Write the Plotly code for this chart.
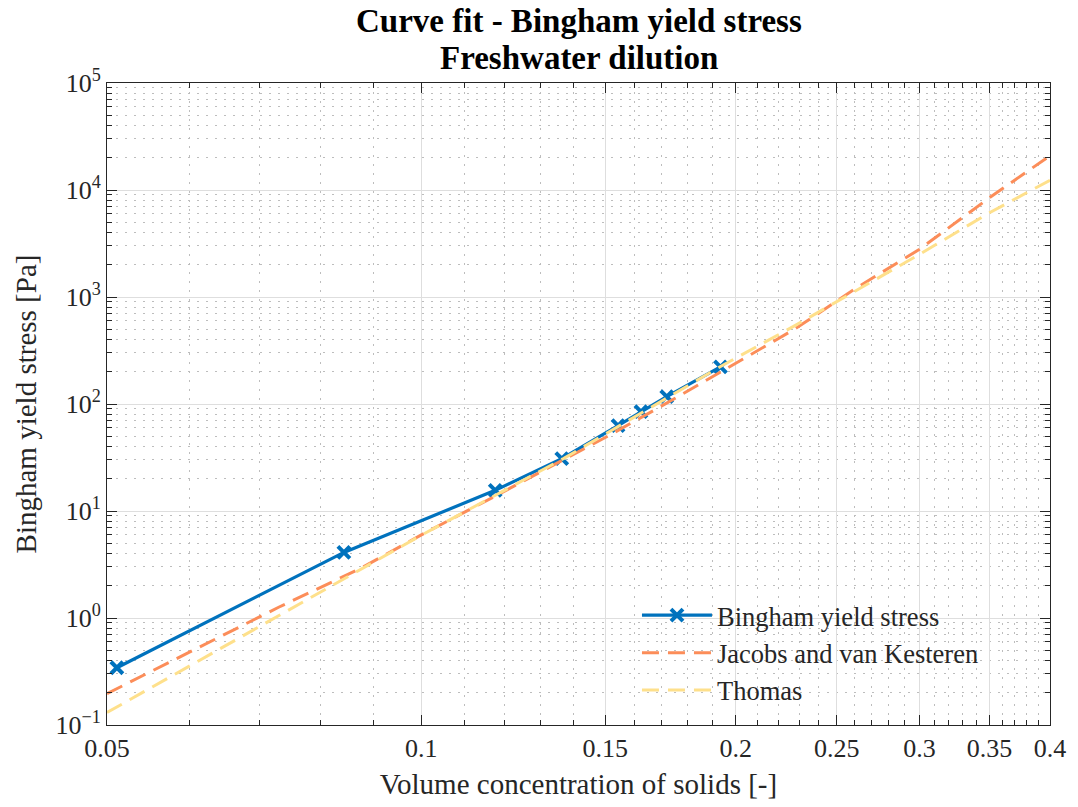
import plotly.graph_objects as go

# ---- data ----
bingham_x = [0.0511, 0.0843, 0.1177, 0.1363, 0.1543, 0.1623, 0.1718, 0.1934]
bingham_y = [0.343, 4.10, 15.6, 30.9, 62.8, 84.8, 117, 222]

jvk_x = [0.05, 0.0730, 0.0876, 0.10, 0.1182, 0.1338, 0.1514, 0.1714, 0.1884, 0.2279, 0.2599, 0.30, 0.35, 0.40]
jvk_y = [0.1965, 1.26, 2.93, 5.98, 14.1, 26.8, 51.0, 100.7, 172, 502, 1185, 2793, 8460, 20950]

thomas_x = [0.05, 0.0730, 0.10, 0.1368, 0.1942, 0.2279, 0.30, 0.35, 0.40]
thomas_y = [0.1307, 1.04, 5.94, 30.9, 229, 540, 2507, 6133, 12340]

x_tickvals = [0.05, 0.1, 0.15, 0.2, 0.25, 0.3, 0.35, 0.4]
x_ticktext = ["0.05", "0.1", "0.15", "0.2", "0.25", "0.3", "0.35", "0.4"]
y_tickvals = [0.1, 1, 10, 100, 1000, 10000, 100000]
y_ticktext = ["10<sup>−1</sup>", "10<sup>0</sup>", "10<sup>1</sup>", "10<sup>2</sup>",
              "10<sup>3</sup>", "10<sup>4</sup>", "10<sup>5</sup>"]

title_lines = ["Curve fit - Bingham yield stress", "Freshwater dilution"]

x_minor = [round(0.01 * k, 2) for k in range(6, 40) if k % 5 != 0]
y_minor = [m * 10.0 ** d for d in range(-1, 5) for m in range(2, 10)]

FONT = "Liberation Serif"
TXT = "#262626"
BLUE = "#0072BD"
ORANGE = "#fc8d59"
YELLOW = "#fee08b"

fig = go.Figure()
fig.add_trace(go.Scatter(
    x=bingham_x, y=bingham_y, mode="lines+markers", name="Bingham yield stress",
    line=dict(color=BLUE, width=3.2),
    marker=dict(symbol="x-thin", size=12, line=dict(color=BLUE, width=4), color=BLUE),
))
fig.add_trace(go.Scatter(
    x=jvk_x, y=jvk_y, mode="lines", name="Jacobs and van Kesteren",
    line=dict(color=ORANGE, width=3, dash="17px,9px"),
))
fig.add_trace(go.Scatter(
    x=thomas_x, y=thomas_y, mode="lines", name="Thomas",
    line=dict(color=YELLOW, width=3, dash="17px,9px"),
))

axis_common = dict(
    type="log", showline=True, linecolor=TXT, linewidth=1, mirror="ticks",
    ticks="inside", ticklen=10, tickwidth=1, tickcolor=TXT,
    showgrid=True, gridcolor="#dedede", gridwidth=1.3, zeroline=False,
    tickfont=dict(family=FONT, size=26, color=TXT),
)
minor_common = dict(ticks="inside", ticklen=5, tickcolor=TXT, tickwidth=1,
                    showgrid=True, gridcolor="#bdbdbd", griddash="1.5px,7.5px", gridwidth=1)

fig.update_layout(
    width=1078, height=807,
    margin=dict(l=107, r=21, t=83, b=80),
    paper_bgcolor="white", plot_bgcolor="white",
    font=dict(family=FONT, color=TXT),
    xaxis=dict(
        axis_common,
        range=[-1.30103, -0.39794],
        tickmode="array", tickvals=x_tickvals, ticktext=x_ticktext,
        minor=dict(minor_common, tickvals=x_minor),
        title=dict(text="Volume concentration of solids [-]",
                   font=dict(family=FONT, size=29, color=TXT), standoff=11),
    ),
    yaxis=dict(
        axis_common,
        range=[-1, 5],
        tickmode="array", tickvals=y_tickvals, ticktext=y_ticktext,
        minor=dict(minor_common, tickvals=y_minor),
        title=dict(text="Bingham yield stress [Pa]",
                   font=dict(family=FONT, size=29, color=TXT), standoff=10),
    ),
    legend=dict(
        x=0.562, y=0.208, xanchor="left", yanchor="top",
        bgcolor="rgba(0,0,0,0)", borderwidth=0,
        font=dict(family=FONT, size=26.5, color=TXT),
        itemwidth=70, tracegroupgap=0,
    ),
    showlegend=True,
)

for i, line in enumerate(title_lines):
    fig.add_annotation(
        text=f"<b>{line}</b>", xref="paper", yref="paper",
        x=0.5, y=1 + (83 - (21 + 37 * i)) / 644.5, xanchor="center", yanchor="middle",
        showarrow=False, font=dict(family=FONT, size=33, color="black"),
    )

fig.write_html("out.html")
